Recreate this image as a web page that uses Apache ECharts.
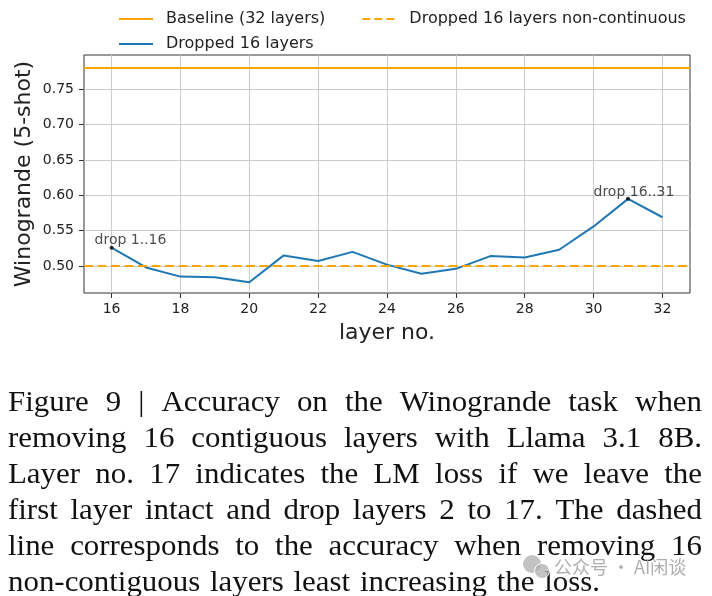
<!DOCTYPE html>
<html>
<head>
<meta charset="utf-8">
<script src="https://cdn.jsdelivr.net/npm/echarts@6/dist/echarts.min.js"></script>
<style>
  html, body { margin: 0; padding: 0; background: #fff; }
  #chart { width: 712px; height: 596px; }
</style>
</head>
<body>
<div id="chart"></div>
<script>
// ---- data ----
const layers = [16, 17, 18, 19, 20, 21, 22, 23, 24, 25, 26, 27, 28, 29, 30, 31, 32];
const dropped16 = [0.526, 0.498, 0.485, 0.484, 0.477, 0.515, 0.507, 0.520, 0.502, 0.489, 0.496, 0.514, 0.512, 0.523, 0.556, 0.595, 0.569];
const baselineValue = 0.783;
const nonContiguousValue = 0.500;
const xTicks = [16, 18, 20, 22, 24, 26, 28, 30, 32];
const yTicks = [0.50, 0.55, 0.60, 0.65, 0.70, 0.75];
const annoX = [16, 31];
const annoY = [0.526, 0.595];
const annoText = ['drop 1..16', 'drop 16..31'];
const seriesNames = ['Baseline (32 layers)', 'Dropped 16 layers non-continuous', 'Dropped 16 layers'];
const axisNames = ['layer no.', 'Winogrande (5-shot)'];
const captionLines = [
  'Figure 9 | Accuracy on the Winogrande task when',
  'removing 16 contiguous layers with Llama 3.1 8B.',
  'Layer no.  17 indicates the LM loss if we leave the',
  'first layer intact and drop layers 2 to 17. The dashed',
  'line corresponds to the accuracy when removing 16',
  'non-contiguous layers least increasing the loss.'
];
const watermarkText = '公众号 · AI闲谈';

// ---- chart ----
const chart = echarts.init(document.getElementById('chart'), null, { renderer: 'canvas' });
const SANS = '"DejaVu Sans", sans-serif';
const ORANGE = '#ffa500';
const BLUE = '#1f77b4';

// caption layout (justified lines)
const capFont = 30;
const capScale = 1.03;
const capFamily = '"Liberation Serif", "Times New Roman", serif';
const ctx = document.createElement('canvas').getContext('2d');
ctx.font = capFont + 'px ' + capFamily;
const capLeft = 8, capRight = 702, capTop = 403, capStep = 36;
const graphics = [];
captionLines.forEach(function (line, i) {
  const words = line.split(/\s+/);
  const y = capTop + i * capStep;
  const last = i === captionLines.length - 1;
  const widths = words.map(function (w) { return ctx.measureText(w).width * capScale; });
  const total = widths.reduce(function (a, b) { return a + b; }, 0);
  const space = ctx.measureText(' ').width * 1.3;
  const gap = last ? space : (capRight - capLeft - total) / (words.length - 1);
  let x = capLeft;
  words.forEach(function (w, k) {
    graphics.push({
      type: 'text', x: x, y: y, scaleX: capScale, silent: true,
      style: { text: w, x: 0, y: 0, fill: '#111', font: capFont + 'px ' + capFamily, verticalAlign: 'middle', align: 'left' }
    });
    x += widths[k] + gap;
  });
});
// watermark
graphics.push({ type: 'circle', shape: { cx: 532, cy: 564, r: 9 }, style: { fill: 'rgba(175,175,175,0.75)' }, silent: true });
graphics.push({ type: 'circle', shape: { cx: 542, cy: 571, r: 7.5 }, style: { fill: 'rgba(175,175,175,0.75)', stroke: '#fff', lineWidth: 1 }, silent: true });
graphics.push({
  type: 'text', x: 554, y: 567, silent: true,
  style: { text: watermarkText, fill: 'rgba(160,160,160,0.85)', font: '18px "Noto Sans CJK SC", sans-serif', verticalAlign: 'middle', align: 'left' }
});

const legendText = { fontFamily: SANS, fontSize: 16, color: '#222', padding: [0, 0, 0, 8] };

const option = {
  animation: false,
  backgroundColor: '#fff',
  grid: { left: 84, right: 22, top: 55, bottom: 303, show: true, borderColor: '#333', borderWidth: 1, backgroundColor: 'transparent' },
  legend: [
    { data: [seriesNames[0], seriesNames[1]], left: 113, top: 6, itemWidth: 34, itemHeight: 14, itemGap: 36, textStyle: legendText, itemStyle: { opacity: 0 }, selectedMode: false },
    { data: [seriesNames[2]], left: 113, top: 31, itemWidth: 34, itemHeight: 14, textStyle: legendText, itemStyle: { opacity: 0 }, selectedMode: false }
  ],
  xAxis: {
    type: 'value', min: 15.2, max: 32.8,
    name: axisNames[0], nameLocation: 'middle', nameGap: 29, nameMoveOverlap: false,
    nameTextStyle: { fontFamily: SANS, fontSize: 22, color: '#222' },
    axisLine: { show: false },
    axisTick: { show: true, customValues: xTicks, length: 5, lineStyle: { color: '#333' } },
    axisLabel: { customValues: xTicks, margin: 9, fontFamily: SANS, fontSize: 14, color: '#222' },
    splitLine: { show: true, lineStyle: { color: '#cccccc', width: 1 } }
  },
  yAxis: {
    type: 'value', min: 0.4618, max: 0.7986,
    name: axisNames[1], nameLocation: 'middle', nameGap: 49, nameRotate: 90, nameMoveOverlap: false,
    nameTextStyle: { fontFamily: SANS, fontSize: 22, color: '#222', verticalAlign: 'bottom' },
    axisLine: { show: false },
    axisTick: { show: true, customValues: yTicks, length: 5, lineStyle: { color: '#333' } },
    axisLabel: { customValues: yTicks, margin: 10, fontFamily: SANS, fontSize: 14, color: '#222', formatter: function (v) { return v.toFixed(2); } },
    splitLine: { show: true, lineStyle: { color: '#cccccc', width: 1 } }
  },
  series: [
    {
      name: seriesNames[0], type: 'line', data: [], symbol: 'none', color: ORANGE,
      lineStyle: { color: ORANGE, width: 2 },
      markLine: { silent: true, symbol: 'none', label: { show: false }, lineStyle: { color: ORANGE, width: 2, type: 'solid' }, data: [{ yAxis: baselineValue }] }
    },
    {
      name: seriesNames[1], type: 'line', data: [], symbol: 'none', color: ORANGE,
      lineStyle: { color: ORANGE, width: 2, type: [8, 4] },
      markLine: { silent: true, symbol: 'none', label: { show: false }, lineStyle: { color: ORANGE, width: 2, type: [9, 4.5] }, data: [{ yAxis: nonContiguousValue }] }
    },
    {
      name: seriesNames[2], type: 'line', symbol: 'none', color: BLUE,
      lineStyle: { color: BLUE, width: 2 },
      data: layers.map(function (l, i) { return [l, dropped16[i]]; }), z: 3
    },
    {
      name: 'annotations', type: 'scatter', symbolSize: 4, itemStyle: { color: '#000' }, z: 4,
      data: annoX.map(function (x, i) {
        return {
          value: [x, annoY[i]],
          label: {
            show: true, formatter: annoText[i], position: 'inside', align: 'left', verticalAlign: 'middle',
            offset: [i === 0 ? -17 : -34.5, -7],
            fontFamily: SANS, fontSize: 14, color: '#222'
          }
        };
      })
    }
  ],
  graphic: graphics
};
chart.setOption(option);
</script>
</body>
</html>
